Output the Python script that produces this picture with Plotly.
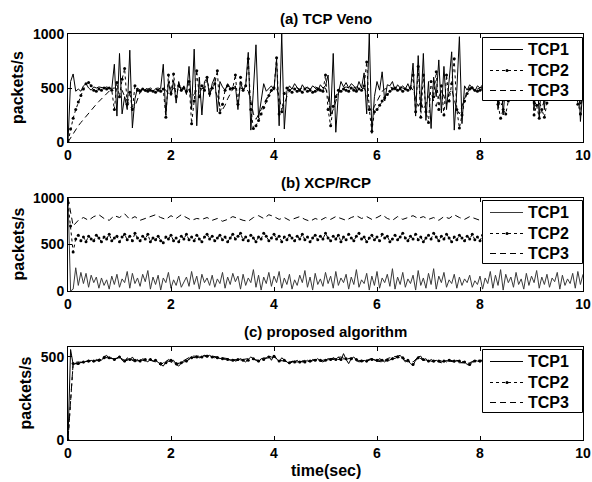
import plotly.graph_objects as go

# ---------------- data ----------------
STEP_FINE = 0.05
STEP_COARSE = 0.1

# (a) TCP Veno, sampled every 0.05 s
veno_tcp1 = [
    0, 560, 630, 470, 490, 470, 520, 540, 500, 480, 510, 500, 510, 505, 500, 510, 500, 490, 720, 240,
    820, 260, 420, 300, 850, 130, 400, 500, 480, 490, 470, 490, 480, 470, 490, 480, 500, 720, 250, 560,
    430, 570, 360, 560, 470, 520, 440, 700, 300, 860, 150, 600, 250, 560, 590, 420, 540, 600, 280, 560,
    510, 480, 540, 500, 490, 520, 300, 560, 470, 520, 830, 110, 480, 900, 220, 400, 540, 470, 500, 520,
    480, 770, 150, 1000, 120, 470, 520, 490, 540, 500, 470, 530, 490, 510, 480, 520, 500, 470, 530, 500,
    520, 620, 240, 820, 90, 450, 560, 510, 550, 500, 540, 520, 480, 560, 500, 640, 260, 1000, 80, 420,
    560, 480, 650, 380, 530, 520, 560, 480, 530, 500, 520, 490, 540, 480, 730, 240, 800, 300, 820, 200,
    560, 125, 600, 420, 760, 270, 700, 300, 560, 835, 110, 480, 975, 170, 520, 480, 530, 500, 470, 520,
    500, 530, 480, 510, 520, 490, 650, 300, 700, 250, 560, 480, 520, 500, 490, 510, 530, 480, 500, 520,
    680, 290, 720, 230, 600, 300, 640, 450, 500, 520, 480, 510, 500, 530, 490, 510, 500, 480, 760, 190,
    500,
]
veno_tcp2 = [
    0, 120, 220, 300, 370, 430, 490, 540, 550, 520, 480, 470, 490, 480, 500, 490, 500, 480, 300, 550,
    420, 580, 680, 350, 460, 300, 520, 480, 470, 490, 480, 470, 480, 470, 460, 480, 470, 490, 230, 620,
    450, 630, 420, 520, 480, 500, 470, 560, 170, 380, 660, 420, 520, 480, 600, 450, 500, 540, 660, 270,
    350, 480, 520, 490, 500, 620, 350, 600, 480, 520, 770, 300, 125, 150, 200, 260, 320, 380, 430, 480,
    500, 780, 260, 280, 450, 500, 480, 460, 490, 470, 480, 460, 490, 470, 480, 460, 470, 490, 480, 470,
    620, 300, 150, 330, 420, 480, 470, 490, 480, 470, 500, 480, 470, 490, 480, 520, 740, 300, 100, 280,
    300, 340, 380, 410, 440, 470, 490, 500, 480, 490, 470, 490, 480, 500, 620, 280, 700, 230, 620, 280,
    180, 560, 420, 650, 300, 520, 250, 620, 380, 540, 770, 300, 130, 250, 380, 450, 490, 500, 480, 470,
    480, 490, 470, 500, 480, 470, 620, 350, 220, 300, 260, 380, 450, 480, 490, 470, 490, 480, 500, 480,
    650, 250, 340, 220, 300, 230, 360, 420, 470, 490, 480, 500, 470, 490, 480, 500, 490, 470, 350, 260,
    480,
]
veno_tcp3 = [
    0, 40, 80, 110, 150, 180, 210, 240, 270, 295, 320, 350, 375, 400, 425, 450, 475, 495, 500, 490,
    500, 480, 420, 380, 350, 300, 330, 400, 460, 490, 500, 490, 500, 490, 495, 500, 490, 500, 480, 450,
    470, 500, 490, 510, 500, 490, 500, 480, 420, 440, 480, 500, 490, 510, 500, 490, 500, 490, 420, 330,
    300, 340, 400, 450, 490, 500, 480, 500, 490, 500, 470, 380, 260, 210, 250, 300, 350, 400, 440, 470,
    490, 500, 420, 300, 350, 420, 470, 500, 510, 500, 490, 500, 510, 500, 490, 500, 510, 500, 490, 500,
    500, 420, 250, 300, 380, 450, 490, 500, 510, 500, 490, 500, 510, 500, 490, 500, 450, 320, 280, 330,
    380, 430, 470, 490, 500, 510, 500, 490, 500, 510, 500, 490, 500, 510, 480, 400, 330, 380, 300, 350,
    420, 460, 380, 330, 420, 470, 420, 350, 450, 490, 400, 300, 260, 330, 410, 470, 500, 510, 500, 490,
    500, 510, 500, 490, 500, 510, 480, 400, 330, 380, 440, 480, 500, 510, 500, 490, 500, 510, 500, 490,
    450, 380, 330, 360, 320, 380, 440, 480, 500, 510, 500, 490, 500, 510, 500, 490, 500, 500, 420, 350,
    480,
]

# (b) XCP/RCP
xcp_tcp1 = [  # every 0.05 s
    1000, 0, 20, 250, 60, 200, 80, 190, 40, 170, 90, 150, 30, 140, 60, 120, 20, 160, 70, 180,
    40, 130, 90, 210, 30, 190, 80, 140, 50, 180, 100, 220, 20, 150, 70, 170, 10, 140, 90, 200,
    30, 120, 60, 160, 40, 100, 150, 50, 210, 70, 160, 20, 180, 90, 140, 60, 170, 40, 130, 80,
    200, 30, 150, 70, 190, 100, 160, 20, 180, 60, 140, 90, 230, 40, 170, 10, 150, 80, 200, 50,
    160, 90, 210, 30, 140, 70, 180, 20, 120, 60, 170, 90, 220, 40, 150, 10, 190, 70, 130, 50,
    200, 80, 160, 30, 210, 60, 140, 90, 180, 20, 150, 70, 230, 40, 120, 80, 190, 10, 160, 60,
    210, 30, 140, 90, 180, 50, 240, 20, 150, 70, 200, 40, 130, 80, 170, 10, 220, 60, 140, 30,
    190, 70, 240, 20, 160, 90, 200, 40, 120, 80, 180, 30, 150, 60, 130, 90, 170, 40, 110, 70,
    160, 20, 140, 80, 210, 30, 170, 60, 230, 10, 180, 90, 150, 40, 200, 70, 130, 20, 190, 60,
    160, 90, 220, 30, 150, 70, 180, 40, 140, 100, 200, 20, 170, 60, 130, 80, 190, 30, 210, 70,
    180,
]
xcp_tcp2 = [  # every 0.05 s
    950, 700, 420, 560, 600, 540, 580, 530, 590, 560, 540, 600, 570, 530, 580, 560, 610, 540, 570, 590,
    530, 580, 610, 550, 590, 540, 620, 570, 540, 590, 560, 610, 530, 570, 550, 590, 540, 520, 580, 560,
    600, 540, 570, 530, 590, 560, 610, 550, 580, 540, 600, 560, 530, 580, 610, 560, 590, 540, 570, 600,
    550, 580, 530, 570, 610, 560, 590, 620, 550, 580, 540, 600, 570, 530, 580, 560, 620, 590, 540, 570,
    610, 560, 590, 530, 580, 550, 600, 570, 540, 590, 560, 610, 550, 580, 530, 570, 600, 550, 590, 560,
    620, 570, 540, 590, 560, 600, 530, 580, 550, 610, 570, 540, 590, 620, 560, 580, 530, 570, 600, 550,
    580, 540, 610, 570, 590, 530, 560, 600, 550, 580, 620, 570, 540, 590, 560, 610, 550, 580, 530, 570,
    600, 560, 620, 580, 540, 590, 560, 610, 570, 530, 580, 550, 600, 570, 540, 590, 560, 610, 550, 580,
    540, 600, 560, 590, 530, 570, 610, 550, 580, 540, 600, 570, 530, 590, 560, 610, 550, 580, 540, 600,
    570, 530, 590, 560, 600, 540, 580, 620, 560, 590, 530, 570, 610, 550, 580, 540, 600, 560, 590, 530,
    570,
]
xcp_tcp3 = [  # every 0.1 s
    1000, 700, 760, 790, 760, 800, 820, 780, 760, 810,
    790, 830, 770, 800, 760, 780, 800, 820, 790, 770,
    810, 780, 820, 790, 760, 780, 770, 790, 760, 780,
    750, 770, 800, 780, 760, 750, 790, 810, 780, 820,
    800, 770, 790, 760, 780, 800, 770, 750, 780, 760,
    790, 770, 800, 780, 760, 790, 810, 780, 800, 770,
    790, 820, 780, 760, 800, 770, 790, 810, 780, 800,
    770, 790, 760, 800, 780, 820, 790, 770, 800, 780,
    760, 790, 770, 800, 780, 760, 790, 810, 780, 760,
    800, 780, 770, 790, 760, 780, 800, 770, 790, 760,
    780,
]

# (c) proposed algorithm
prop_tcp1 = [  # every 0.05 s
    0, 545, 455, 460, 455, 470, 465, 475, 470, 480, 470, 485, 475, 480, 500, 510, 490, 495, 480, 490,
    505, 480, 470, 495, 480, 500, 475, 485, 470, 490, 480, 470, 490, 475, 480, 465, 455, 445, 470, 485,
    475, 480, 455, 445, 460, 480, 470, 490, 500, 495, 505, 495, 500, 510, 500, 510, 500, 495, 500, 490,
    495, 485, 490, 480, 485, 475, 480, 490, 480, 470, 485, 500, 490, 480, 470, 490, 485, 495, 505, 480,
    510, 490, 470, 495, 480, 470, 460, 475, 470, 480, 465, 475, 470, 480, 470, 485, 480, 490, 475, 470,
    480, 490, 480, 495, 485, 500, 480, 520, 485, 460, 490, 500, 480, 470, 475, 480, 470, 485, 490, 480,
    475, 490, 480, 470, 485, 480, 495, 490, 505, 510, 490, 470, 480, 460, 450, 480, 500, 505, 480, 490,
    470, 485, 475, 480, 470, 465, 480, 470, 485, 475, 470, 480, 475, 465, 470, 455, 450, 470, 480, 475,
    470, 480, 490, 475, 485, 480, 470, 490, 480, 475, 485, 480, 470, 490, 480, 475, 485, 480, 490, 475,
    480, 470, 485, 480, 490, 475, 480, 470, 485, 480, 490, 475, 480, 470, 485, 480, 490, 475, 480, 505,
    490,
]
prop_tcp2 = [  # every 0.1 s
    0, 460, 460, 470, 475, 475, 480, 495, 495, 485,
    500, 475, 485, 480, 475, 485, 485, 480, 460, 465,
    480, 460, 465, 475, 495, 500, 500, 505, 500, 495,
    490, 485, 480, 485, 480, 480, 490, 475, 485, 500,
    505, 475, 480, 465, 470, 470, 470, 475, 480, 480,
    480, 485, 485, 485, 490, 490, 485, 475, 475, 485,
    480, 480, 480, 490, 500, 495, 480, 455, 495, 485,
    475, 475, 475, 475, 480, 475, 475, 470, 455, 475,
    475, 485, 480, 475, 480, 480, 475, 480, 480, 485,
    480, 480, 485, 480, 480, 485, 480, 480, 485, 485,
    490,
]
prop_tcp3 = [  # every 0.1 s
    0, 465, 470, 465, 480, 470, 485, 505, 490, 490,
    495, 480, 490, 470, 485, 475, 480, 470, 450, 480,
    470, 450, 470, 490, 505, 505, 505, 510, 505, 500,
    495, 490, 485, 480, 485, 490, 485, 480, 495, 490,
    500, 480, 475, 470, 475, 470, 480, 470, 485, 475,
    485, 490, 495, 500, 485, 495, 475, 480, 480, 490,
    475, 470, 490, 500, 505, 490, 470, 470, 500, 480,
    480, 470, 480, 470, 475, 470, 465, 465, 465, 480,
    480, 480, 485, 470, 485, 485, 470, 485, 480, 480,
    475, 485, 490, 480, 485, 480, 475, 490, 480, 495,
    495,
]

series_names = ["TCP1", "TCP2", "TCP3"]
x_ticks = [0, 2, 4, 6, 8, 10]
panel_titles = ["(a) TCP Veno", "(b) XCP/RCP", "(c) proposed algorithm"]
y_ticks = [[0, 500, 1000], [0, 500, 1000], [0, 500]]
y_ranges = [[0, 1000], [0, 1000], [0, 560]]


def times(vals, step):
    return [round(i * step, 2) for i in range(len(vals))]


# ---------------- figure ----------------
FONT = "Liberation Sans, Arial, Helvetica, sans-serif"
fig = go.Figure()

panels = [
    [(veno_tcp1, STEP_FINE), (veno_tcp2, STEP_FINE), (veno_tcp3, STEP_FINE)],
    [(xcp_tcp1, STEP_FINE), (xcp_tcp2, STEP_FINE), (xcp_tcp3, STEP_COARSE)],
    [(prop_tcp1, STEP_FINE), (prop_tcp2, STEP_COARSE), (prop_tcp3, STEP_COARSE)],
]
tcp1_colors = ["black", "#3a3a3a", "black"]
DASH3 = "6px,4px"

for p, series in enumerate(panels):
    ax = "" if p == 0 else str(p + 1)
    for k, (vals, step) in enumerate(series):
        common = dict(
            x=times(vals, step), y=vals, name=series_names[k],
            xaxis="x" + ax, yaxis="y" + ax, showlegend=False,
            hoverinfo="skip",
        )
        if k == 0:
            fig.add_trace(go.Scatter(mode="lines",
                                     line=dict(color=tcp1_colors[p], width=1), **common))
        elif k == 1:
            fig.add_trace(go.Scatter(mode="lines+markers",
                                     line=dict(color="black", width=1, dash="dot"),
                                     marker=dict(color="black", size=3), **common))
        else:
            fig.add_trace(go.Scatter(mode="lines",
                                     line=dict(color="black", width=1, dash=DASH3),
                                     **common))

# pixel geometry of the plotting area
X0, X1 = 68.0, 583.0
Y_TOP, Y_BOT = 34.0, 440.0
H_PLOT = Y_BOT - Y_TOP

def py(ypx):  # pixel y (from top of figure) -> paper fraction
    return (Y_BOT - ypx) / H_PLOT

def px(xpx):
    return (xpx - X0) / (X1 - X0)

domains = [[py(142), 1.0], [py(291), py(198)], [0.0, py(347)]]

axis_common = dict(
    showline=True, linecolor="black", linewidth=1, mirror="allticks",
    ticks="inside", ticklen=4, tickcolor="black", showgrid=False, zeroline=False,
    automargin=False,
    tickfont=dict(family=FONT, size=14, color="black", weight="bold"),
)

layout = dict(
    width=592, height=482,
    margin=dict(l=68, r=9, t=34, b=42, autoexpand=False),
    paper_bgcolor="white", plot_bgcolor="white",
    font=dict(family=FONT, color="black"),
    showlegend=False,
)
for p in range(3):
    ax = "" if p == 0 else str(p + 1)
    layout["xaxis" + ax] = dict(axis_common, domain=[0, 1], range=[0, 10],
                                tickvals=x_ticks, anchor="y" + ax)
    layout["yaxis" + ax] = dict(axis_common, domain=domains[p], range=y_ranges[p],
                                tickvals=y_ticks[p], anchor="x" + ax)
fig.update_layout(**layout)

# panel titles, axis titles
title_y = [18, 182, 331]
for p in range(3):
    fig.add_annotation(text=panel_titles[p], xref="paper", yref="paper",
                       x=0.5, y=py(title_y[p]), showarrow=False, xanchor="center",
                       yanchor="middle",
                       font=dict(family=FONT, size=15, color="black", weight="bold"))
ytitle_x = [18, 18, 25]
ytitle_y = [88, 244.5, 393.5]
for p in range(3):
    fig.add_annotation(text="packets/s", xref="paper", yref="paper",
                       x=px(ytitle_x[p]), y=py(ytitle_y[p]), textangle=-90,
                       showarrow=False, xanchor="center", yanchor="middle",
                       font=dict(family=FONT, size=16, color="black", weight="bold"))
fig.add_annotation(text="time(sec)", xref="paper", yref="paper", x=0.5, y=py(470),
                   showarrow=False, xanchor="center", yanchor="middle",
                   font=dict(family=FONT, size=16, color="black", weight="bold"))

# legend boxes (MATLAB style), one per panel
legend_top = [37.5, 200.5, 349.5]
row_off = [12.0, 33.0, 53.0]
for p in range(3):
    top = legend_top[p]
    fig.add_shape(type="rect", xref="paper", yref="paper", layer="above",
                  x0=px(482.5), x1=px(582.5), y0=py(top), y1=py(top + 63.0),
                  line=dict(color="black", width=1), fillcolor="white")
    for k in range(3):
        yy = py(top + row_off[k])
        if k == 0:
            ln = dict(color=tcp1_colors[p], width=1)
        elif k == 1:
            ln = dict(color="black", width=1, dash="dot")
        else:
            ln = dict(color="black", width=1, dash=DASH3)
        fig.add_shape(type="line", xref="paper", yref="paper", layer="above",
                      x0=px(490), x1=px(523), y0=yy, y1=yy, line=ln)
        if k == 1:
            fig.add_shape(type="circle", xref="paper", yref="paper", layer="above",
                          x0=px(505.5), x1=px(508.5), y0=py(top + row_off[k] + 1.5),
                          y1=py(top + row_off[k] - 1.5),
                          line=dict(color="black", width=0), fillcolor="black")
        fig.add_annotation(text=series_names[k], xref="paper", yref="paper",
                           x=px(526), y=yy, showarrow=False, xanchor="left",
                           yanchor="middle",
                           font=dict(family=FONT, size=16, color="black", weight="bold"))

fig.write_html("out.html", config={"displayModeBar": False},
               post_script="document.body.style.margin='0px';")
